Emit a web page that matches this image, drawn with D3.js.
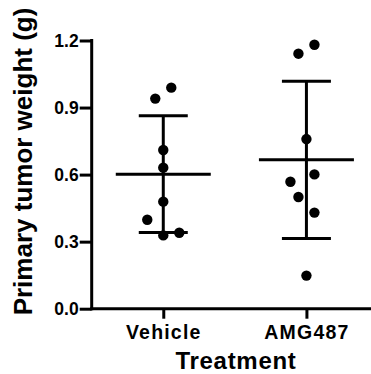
<!DOCTYPE html>
<html lang="en">
<head>
  <meta charset="UTF-8">
  <title>Primary tumor weight</title>
  <script src="https://cdn.jsdelivr.net/npm/d3@7"></script>
  <style>
    body { margin: 0; background: #fff; }
    svg { display: block; font-family: "Liberation Sans", Arial, sans-serif; font-weight: bold; }
    .axis path, .axis line { stroke: #000; stroke-width: 3px; }
    .axis text { fill: #000; }
    .bar { stroke: #000; stroke-width: 3px; }
  </style>
</head>
<body>
  <svg width="371" height="374"></svg>

  <script>
    // groups and the weights (g)
    const groups    = ["Vehicle", "AMG487"];
    const vehicle   = [0.940, 0.989, 0.710, 0.631, 0.479, 0.398, 0.328, 0.340];
    const amg487    = [1.141, 1.181, 0.759, 0.601, 0.568, 0.500, 0.430, 0.148];
    // scatter lane of each dot (GraphPad style spread)
    const vehicleLane = [-1, 1, 0, 0, 0, -2, 0, 2];
    const amg487Lane  = [-1, 1, 0, 1, -2, -1, 1, 0];
    const yTicks    = [0, 0.3, 0.6, 0.9, 1.2];

    const series = [
      { name: groups[0], values: vehicle, lanes: vehicleLane },
      { name: groups[1], values: amg487,  lanes: amg487Lane }
    ];

    const svg = d3.select("svg"),
          plotLeft = 91.7, plotRight = 378,
          plotTop = 40.5, plotBottom = 308.7;

    const x = d3.scalePoint().domain(groups).range([plotLeft, plotRight]).padding(0.5);
    const y = d3.scaleLinear().domain([0, 1.2]).range([plotBottom, plotTop]);
    const laneStep = 8;

    // y axis
    const yAxis = svg.append("g")
      .attr("class", "axis")
      .attr("transform", `translate(${plotLeft},0)`)
      .call(d3.axisLeft(y).tickValues(yTicks).tickFormat(d3.format(".1f"))
              .tickSize(12).tickSizeOuter(0).tickPadding(1));
    yAxis.select(".domain").attr("d", `M0,${y(1.2) - 1.5}V${plotBottom + 1.5}`);
    yAxis.selectAll("text").style("font-size", "17.5px");

    // x axis
    const xAxis = svg.append("g")
      .attr("class", "axis")
      .attr("transform", `translate(0,${plotBottom})`)
      .call(d3.axisBottom(x).tickSize(10).tickSizeOuter(0).tickPadding(6));
    xAxis.select(".domain").attr("d", `M${plotLeft - 1.5},0H${plotRight}`);
    xAxis.selectAll("text")
      .style("font-size", "19.5px")
      .style("letter-spacing", "1.2px")
      .attr("dy", "0.71em");

    // mean and SD bars
    series.forEach(s => {
      const m  = d3.mean(s.values),
            sd = d3.deviation(s.values),
            cx = x(s.name),
            g  = svg.append("g");

      g.append("line").attr("class", "bar")
        .attr("x1", cx).attr("x2", cx)
        .attr("y1", y(m + sd)).attr("y2", y(m - sd));
      [m + sd, m - sd].forEach(v => {
        g.append("line").attr("class", "bar")
          .attr("x1", cx - 24.5).attr("x2", cx + 24.5)
          .attr("y1", y(v)).attr("y2", y(v));
      });
      g.append("line").attr("class", "bar")
        .attr("x1", cx - 47.5).attr("x2", cx + 47.5)
        .attr("y1", y(m)).attr("y2", y(m));

      g.selectAll("circle")
        .data(s.values)
        .join("circle")
          .attr("cx", (d, i) => cx + s.lanes[i] * laneStep)
          .attr("cy", d => y(d))
          .attr("r", 5.2)
          .attr("fill", "#000");
    });

    // axis titles
    svg.append("text")
      .attr("transform", `translate(32.3,161.5) rotate(-90)`)
      .attr("text-anchor", "middle")
      .style("font-size", "26px")
      .text("Primary tumor weight (g)");

    svg.append("text")
      .attr("x", 236)
      .attr("y", 369.3)
      .attr("text-anchor", "middle")
      .style("font-size", "24px")
      .style("letter-spacing", "0.7px")
      .text("Treatment");
  </script>
</body>
</html>
